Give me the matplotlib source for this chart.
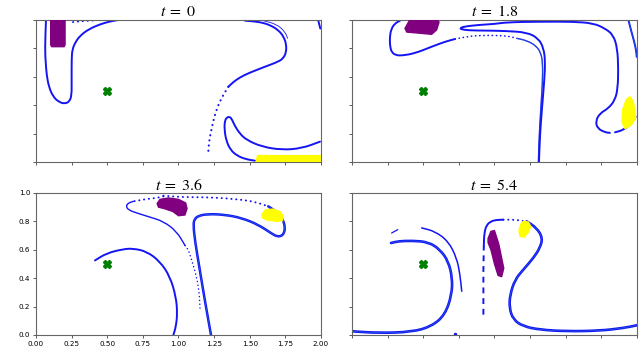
import numpy as np
import matplotlib
matplotlib.use('Agg')
import matplotlib.pyplot as plt
from matplotlib.path import Path
from matplotlib.patches import PathPatch

plt.rcParams['mathtext.fontset'] = 'stix'

# panel titles
times = ['0', '1.8', '3.6', '5.4']
centre = (0.5, 0.5)

# ---- t = 0 ----
p1_a_x = [0.07, 0.063, 0.068, 0.075, 0.09, 0.12, 0.16, 0.2, 0.235, 0.25, 0.25, 0.25, 0.255, 0.274, 0.31, 0.37, 0.45, 0.52, 0.578]
p1_a_y = [1.0, 0.80, 0.70, 0.613, 0.53, 0.46, 0.423, 0.41, 0.425, 0.47, 0.565, 0.73, 0.79, 0.84, 0.89, 0.935, 0.97, 0.99, 1.0]
p1_dots_x = [0.26, 0.30, 0.38, 0.44]
p1_dots_y = [0.985, 0.99, 0.995, 1.0]
p1_b_x = [1.467, 1.53, 1.584, 1.64, 1.7, 1.74, 1.757, 1.755, 1.735, 1.70, 1.607, 1.49, 1.43, 1.385, 1.35]
p1_b_y = [0.995, 0.99, 0.982, 0.965, 0.93, 0.88, 0.824, 0.77, 0.73, 0.706, 0.671, 0.625, 0.595, 0.563, 0.53]
p1_bd_x = [1.35, 1.314, 1.279, 1.251, 1.233, 1.216, 1.209]
p1_bd_y = [0.53, 0.472, 0.401, 0.319, 0.237, 0.155, 0.073]
p1_b2_x = [1.595, 1.689, 1.747, 1.766]
p1_b2_y = [0.995, 0.97, 0.918, 0.871]
p1_c_x = [1.537, 1.47, 1.41, 1.365, 1.335, 1.322, 1.325, 1.34, 1.361, 1.375, 1.395, 1.43, 1.478, 1.584, 1.724, 1.865, 1.993]
p1_c_y = [0.009, 0.02, 0.045, 0.085, 0.15, 0.23, 0.29, 0.315, 0.318, 0.3, 0.255, 0.2, 0.155, 0.108, 0.085, 0.096, 0.143]
p1_e_x = [1.98, 1.995]
p1_e_y = [1.0, 0.94]
p1_purple_x = [0.103, 0.103, 0.11, 0.197, 0.204, 0.204]
p1_purple_y = [1.01, 0.825, 0.812, 0.812, 0.825, 1.01]
p1_yellow_x = [1.545, 1.555, 2.01, 2.01, 1.545]
p1_yellow_y = [0.0, 0.045, 0.045, -0.01, -0.01]

# ---- t = 1.8 ----
p2_d_x = [0.337, 0.30, 0.275, 0.265, 0.267, 0.28, 0.31, 0.349, 0.442, 0.559, 0.653, 0.723]
p2_d_y = [0.995, 0.975, 0.935, 0.88, 0.812, 0.77, 0.752, 0.749, 0.765, 0.812, 0.847, 0.866]
p2_dd_x = [0.723, 0.77, 0.816, 0.863, 0.96, 1.062, 1.109, 1.156]
p2_dd_y = [0.866, 0.875, 0.883, 0.889, 0.892, 0.889, 0.883, 0.871]
p2_ds_x = [1.156, 1.226, 1.29, 1.325, 1.338, 1.337, 1.325, 1.314, 1.308]
p2_ds_y = [0.871, 0.855, 0.82, 0.77, 0.7, 0.566, 0.378, 0.19, 0.0]
p2_e_x = [1.312, 1.319, 1.333, 1.349, 1.356, 1.345, 1.308, 1.226, 1.086, 0.968, 0.933, 0.816, 0.77, 0.758,
          0.782, 0.886, 1.004, 1.086, 1.319, 1.553, 1.693, 1.775, 1.834, 1.862, 1.869, 1.865, 1.846, 1.8,
          1.74, 1.71, 1.722, 1.775, 1.81]
p2_e_y = [0.0, 0.19, 0.378, 0.566, 0.706, 0.801, 0.871, 0.913, 0.922, 0.925, 0.925, 0.927, 0.934, 0.941,
          0.953, 0.965, 0.972, 0.984, 0.988, 0.988, 0.977, 0.941, 0.894, 0.801, 0.66, 0.519, 0.437, 0.378,
          0.343, 0.289, 0.237, 0.209, 0.205]
p2_e2_x = [1.846, 1.904, 1.963, 1.991]
p2_e2_y = [0.209, 0.225, 0.272, 0.319]
p2_edge_x = [1.94, 1.96, 1.98, 1.995, 1.998]
p2_edge_y = [1.0, 0.92, 0.85, 0.78, 0.74]
p2_purple_x = [0.372, 0.384, 0.559, 0.594, 0.611, 0.59, 0.41, 0.391]
p2_purple_y = [0.941, 0.915, 0.899, 0.93, 0.985, 1.01, 1.01, 0.975]
p2_yellow_x = [1.951, 1.974, 1.985, 1.99, 1.96, 1.916, 1.895, 1.9, 1.925]
p2_yellow_y = [0.46, 0.425, 0.36, 0.31, 0.26, 0.235, 0.28, 0.37, 0.44]

# ---- t = 3.6 ----
p3_f_x = [0.414, 0.496, 0.613, 0.683, 0.777, 0.87, 0.94, 0.982, 0.992, 0.982, 0.964]
p3_f_y = [0.525, 0.576, 0.605, 0.609, 0.588, 0.518, 0.412, 0.271, 0.153, 0.059, 0.0]
p3_gd_x = [0.894, 0.847, 0.777, 0.683]
p3_gd_y = [0.976, 0.965, 0.958, 0.941]
p3_g_x = [0.683, 0.645, 0.632, 0.65, 0.707, 0.80, 0.894, 0.987, 1.046]
p3_g_y = [0.941, 0.928, 0.905, 0.88, 0.859, 0.83, 0.80, 0.73, 0.63]
p3_gs_x = [1.046, 1.069, 1.092, 1.127, 1.146, 1.151]
p3_gs_y = [0.63, 0.60, 0.529, 0.412, 0.294, 0.19]
p3_hd_x = [0.894, 1.034, 1.233, 1.443, 1.537, 1.63]
p3_hd_y = [0.981, 0.97, 0.97, 0.953, 0.937, 0.906]
p3_h_x = [1.63, 1.7, 1.735, 1.748, 1.74, 1.719, 1.69, 1.66, 1.56, 1.443, 1.326, 1.209, 1.14, 1.112, 1.104, 1.116, 1.151, 1.186, 1.228]
p3_h_y = [0.906, 0.86, 0.81, 0.754, 0.715, 0.695, 0.695, 0.71, 0.777, 0.824, 0.847, 0.852, 0.84, 0.815, 0.777, 0.66, 0.449, 0.237, 0.0]
p3_purple_x = [0.85, 0.87, 0.93, 1.0, 1.05, 1.06, 1.045, 1.0, 0.96, 0.9, 0.86]
p3_purple_y = [0.925, 0.955, 0.965, 0.955, 0.93, 0.89, 0.845, 0.84, 0.87, 0.89, 0.9]
p3_yellow_x = [1.585, 1.61, 1.66, 1.71, 1.735, 1.73, 1.69, 1.62, 1.59]
p3_yellow_y = [0.85, 0.88, 0.887, 0.87, 0.84, 0.805, 0.8, 0.81, 0.825]

# ---- t = 5.4 ----
p4_i_x = [0.0, 0.185, 0.419, 0.559, 0.653, 0.70, 0.704, 0.676, 0.618, 0.536, 0.419, 0.325, 0.274]
p4_i_y = [0.026, 0.014, 0.021, 0.061, 0.143, 0.284, 0.401, 0.519, 0.601, 0.655, 0.664, 0.66, 0.648]
p4_s_x = [0.278, 0.321]
p4_s_y = [0.718, 0.742]
p4_j_x = [0.489, 0.582, 0.676, 0.735, 0.758, 0.77]
p4_j_y = [0.754, 0.73, 0.66, 0.542, 0.425, 0.308]
p4_dot_x = [0.723]
p4_dot_y = [0.005]
p4_kd_x = [0.922, 0.922, 0.925]
p4_kd_y = [0.143, 0.45, 0.625]
p4_k_x = [0.925, 0.928, 0.945, 0.975, 1.01, 1.062]
p4_k_y = [0.625, 0.72, 0.775, 0.8, 0.81, 0.812]
p4_kg_x = [1.062, 1.144, 1.226]
p4_kg_y = [0.812, 0.812, 0.80]
p4_k2_x = [1.226, 1.296, 1.338, 1.319, 1.273, 1.202, 1.144, 1.109, 1.104, 1.132, 1.202, 1.319, 1.507, 1.74, 1.904, 1.998]
p4_k2_y = [0.80, 0.754, 0.683, 0.613, 0.542, 0.46, 0.39, 0.284, 0.19, 0.108, 0.061, 0.037, 0.026, 0.03, 0.049, 0.068]
p4_purple_x = [0.955, 0.975, 1.0, 1.03, 1.065, 1.05, 1.025, 1.0, 0.975, 0.955]
p4_purple_y = [0.68, 0.73, 0.735, 0.64, 0.47, 0.41, 0.42, 0.5, 0.6, 0.65]
p4_yellow_x = [1.203, 1.238, 1.254, 1.238, 1.208, 1.179, 1.172, 1.184]
p4_yellow_y = [0.802, 0.795, 0.765, 0.725, 0.689, 0.694, 0.736, 0.779]

blue = '#1414f5'
teal = '#30b0c8'
dots = (0, (0.1, 2.4))


def curve(x, y):
    # quadratic bezier through midpoints so the polylines read as smooth curves
    v = np.column_stack([x, y])
    if len(v) < 3:
        return Path(v)
    mids = (v[:-1] + v[1:]) / 2
    verts = [v[0], mids[0]]
    codes = [Path.MOVETO, Path.LINETO]
    for i in range(1, len(v) - 1):
        verts += [v[i], mids[i]]
        codes += [Path.CURVE3, Path.CURVE3]
    verts.append(v[-1])
    codes.append(Path.LINETO)
    return Path(verts, codes)


def solid(ax, x, y, lw=1.4, tint=False):
    ax.add_patch(PathPatch(curve(x, y), fill=False, edgecolor=blue, lw=lw, capstyle='round', joinstyle='round'))
    if tint:
        ax.add_patch(PathPatch(curve(x, y), fill=False, edgecolor=teal, lw=0.5, alpha=0.45))


def dotted(ax, x, y, lw=1.4):
    ax.add_patch(PathPatch(curve(x, y), fill=False, edgecolor=blue, lw=lw, ls=dots, capstyle='round'))


fig = plt.figure(figsize=(6.4, 3.51), dpi=100)
pos = [[0.05625, 0.5385, 0.4453, 0.4046], [0.55, 0.5385, 0.4453, 0.4046],
       [0.05625, 0.0456, 0.4453, 0.4046], [0.55, 0.0456, 0.4453, 0.4046]]
axes = [fig.add_axes(p) for p in pos]

ax = axes[0]
solid(ax, p1_a_x, p1_a_y)
dotted(ax, p1_dots_x, p1_dots_y)
solid(ax, p1_b_x, p1_b_y)
dotted(ax, p1_bd_x, p1_bd_y, lw=1.5)
solid(ax, p1_b2_x, p1_b2_y, lw=0.6)
solid(ax, p1_c_x, p1_c_y)
solid(ax, p1_e_x, p1_e_y)
ax.fill(p1_purple_x, p1_purple_y, color='purple', zorder=3)
ax.fill(p1_yellow_x, p1_yellow_y, color='yellow', zorder=3)

ax = axes[1]
solid(ax, p2_d_x, p2_d_y)
dotted(ax, p2_dd_x, p2_dd_y, lw=1.2)
solid(ax, p2_ds_x, p2_ds_y, lw=1.0, tint=True)
solid(ax, p2_e_x, p2_e_y)
solid(ax, p2_e2_x, p2_e2_y)
solid(ax, p2_edge_x, p2_edge_y, tint=True)
ax.fill(p2_purple_x, p2_purple_y, color='purple', zorder=3)
ax.fill(p2_yellow_x, p2_yellow_y, color='yellow', zorder=3)

ax = axes[2]
solid(ax, p3_f_x, p3_f_y)
dotted(ax, p3_gd_x, p3_gd_y)
solid(ax, p3_g_x, p3_g_y, lw=1.0)
dotted(ax, p3_gs_x, p3_gs_y, lw=1.1)
dotted(ax, p3_hd_x, p3_hd_y)
solid(ax, p3_h_x, p3_h_y, lw=1.8, tint=True)
ax.fill(p3_purple_x, p3_purple_y, color='purple', zorder=3)
ax.fill(p3_yellow_x, p3_yellow_y, color='yellow', zorder=3)

ax = axes[3]
solid(ax, p4_i_x, p4_i_y, lw=1.9, tint=True)
solid(ax, p4_s_x, p4_s_y, lw=0.9)
solid(ax, p4_j_x, p4_j_y, lw=1.1)
ax.plot(p4_dot_x, p4_dot_y, 'o', color=blue, ms=1.5)
ax.plot(p4_kd_x, p4_kd_y, color=blue, lw=1.4, ls=(0, (3, 2.5)))
solid(ax, p4_k_x, p4_k_y)
dotted(ax, p4_kg_x, p4_kg_y)
solid(ax, p4_k2_x, p4_k2_y, lw=1.9, tint=True)
ax.fill(p4_purple_x, p4_purple_y, color='purple', zorder=3)
ax.fill(p4_yellow_x, p4_yellow_y, color='yellow', zorder=3)

for i, ax in enumerate(axes):
    ax.plot(centre[0], centre[1], 'X', color='green', ms=6, mec='green', zorder=4)
    ax.set_xlim(0, 2)
    ax.set_ylim(0, 1)
    ax.set_xticks(np.arange(0, 2.01, 0.25))
    ax.set_yticks(np.arange(0, 1.01, 0.2))
    ax.tick_params(length=2.5, width=0.7, labelsize=5.2, pad=1.5, color='0.35')
    for s in ax.spines.values():
        s.set_color('0.4')
        s.set_linewidth(0.8)
    if i != 2:
        ax.set_xticklabels([])
        ax.set_yticklabels([])
    ax.set_title(r'$t\;=\;%s$' % times[i], fontsize=11.5, pad=2.5)

fig.savefig('out.png', dpi=100)
